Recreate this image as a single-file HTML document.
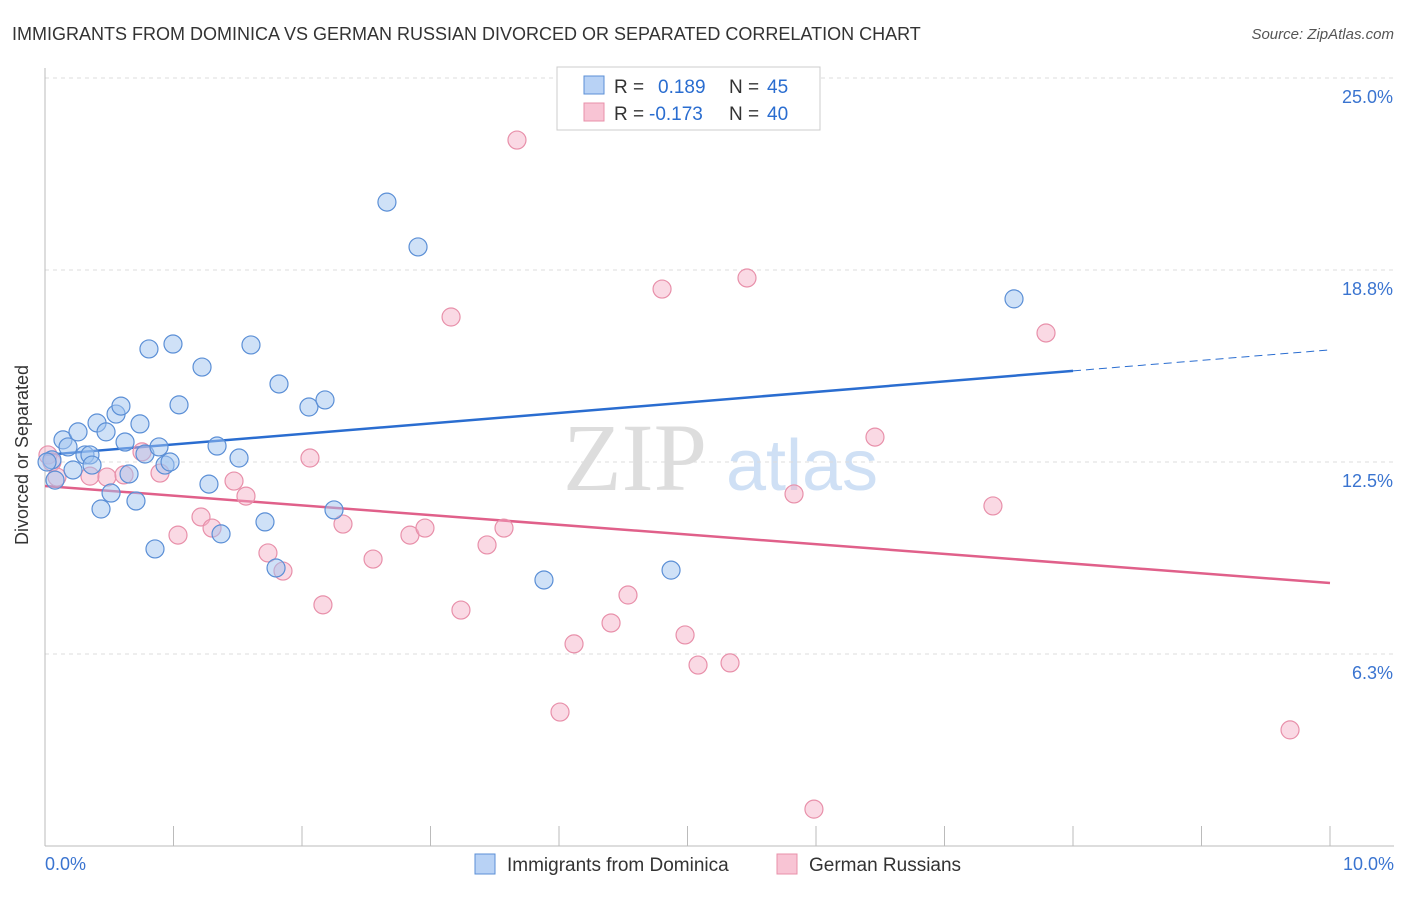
<!DOCTYPE html>
<html><head><meta charset="utf-8"><style>
body{margin:0;background:#fff;font-family:"Liberation Sans",sans-serif}
</style></head><body>
<svg width="1406" height="892" xmlns="http://www.w3.org/2000/svg" font-family="Liberation Sans, sans-serif">
<text x="12" y="40" font-size="18" fill="#333">IMMIGRANTS FROM DOMINICA VS GERMAN RUSSIAN DIVORCED OR SEPARATED CORRELATION CHART</text>
<text x="1394" y="39" font-size="15" fill="#555" font-style="italic" text-anchor="end">Source: ZipAtlas.com</text>
<g>
<text x="635" y="490" font-size="96" font-family="Liberation Serif, serif" fill="#ddd" text-anchor="middle">ZIP</text>
<text x="802" y="490" font-size="72" fill="#cfe0f5" text-anchor="middle">atlas</text>
</g>
<g id="grid"></g>
<g id="axes"></g>
<g id="trends"></g>
<g id="pts"></g>
<g>
<rect x="557" y="67" width="263" height="63" fill="#fff" stroke="#ccc"/>
<rect x="584" y="76" width="20" height="18" fill="#b8d2f5" stroke="#5b8fd6"/>
<rect x="584" y="103" width="20" height="18" fill="#f8c4d4" stroke="#e890aa"/>
<text x="614" y="93" font-size="19" fill="#333">R = <tspan fill="#2a6dd0" x="658">0.189</tspan><tspan fill="#333" x="729">N =</tspan><tspan fill="#2a6dd0" x="767">45</tspan></text>
<text x="614" y="120" font-size="19" fill="#333">R = <tspan fill="#2a6dd0" x="649">-0.173</tspan><tspan fill="#333" x="729">N =</tspan><tspan fill="#2a6dd0" x="767">40</tspan></text>
</g>
<g>
<rect x="475" y="854" width="20" height="20" fill="#b8d2f5" stroke="#5b8fd6"/>
<text x="507" y="871" font-size="19" fill="#333">Immigrants from Dominica</text>
<rect x="777" y="854" width="20" height="20" fill="#f8c4d4" stroke="#e890aa"/>
<text x="809" y="871" font-size="19" fill="#333">German Russians</text>
</g>
<text x="28" y="455" font-size="18" fill="#333" transform="rotate(-90 28 455)" text-anchor="middle">Divorced or Separated</text>
</svg>
<script>
const yTicks=[25.0,18.8,12.5,6.3];
const yTickVals=[25,18.75,12.5,6.25];
const xTickLabels=["0.0%","10.0%"];
const blueX=[0.054,0.078,0.140,0.179,0.218,0.257,0.311,0.350,0.366,0.405,0.436,0.475,0.514,0.553,0.591,0.623,0.654,0.708,0.739,0.778,0.809,0.856,0.887,0.934,0.973,0.996,1.043,1.222,1.276,1.339,1.370,1.510,1.603,1.712,1.798,1.821,2.054,2.179,2.249,2.661,2.903,3.883,4.872,7.541,0.016];
const blueY=[12.57,11.91,13.22,12.99,12.24,13.48,12.73,12.73,12.40,13.77,10.97,13.48,11.49,14.06,14.32,13.15,12.11,11.23,13.74,12.76,16.18,9.67,12.99,12.40,12.50,16.34,14.36,15.59,11.78,13.02,10.16,12.63,16.31,10.55,9.05,15.04,14.29,14.52,10.94,20.96,19.50,8.66,8.98,17.81,12.50];
const pinkX=[0.023,0.054,0.093,0.350,0.482,0.615,0.755,0.895,1.035,1.214,1.300,1.471,1.564,1.735,1.852,2.062,2.163,2.319,2.553,2.840,2.957,3.160,3.237,3.440,3.572,3.673,4.008,4.117,4.405,4.537,4.802,4.981,5.082,5.331,5.463,5.829,5.984,6.459,7.377,7.790,9.689];
const pinkY=[12.73,12.50,12.01,12.04,12.01,12.08,12.83,12.14,10.12,10.71,10.35,11.88,11.39,9.54,8.95,12.63,7.85,10.48,9.34,10.12,10.35,17.22,7.68,9.80,10.35,22.98,4.36,6.58,7.26,8.17,18.13,6.87,5.89,5.96,18.49,11.46,1.20,13.31,11.07,16.70,3.78];
const blueTrend=[12.73,16.15];
const pinkTrend=[11.72,8.56];
const blueSolidEnd=8.0;
const NS="http://www.w3.org/2000/svg";
const X=v=>45+v*128.5, Y=v=>846-v*30.72;
function mk(t,a,p){const e=document.createElementNS(NS,t);for(const k in a)e.setAttribute(k,a[k]);p.appendChild(e);return e;}
const grid=document.getElementById('grid'),axes=document.getElementById('axes');
yTickVals.forEach((v,i)=>{
 const l=mk('line',{x1:45,x2:1394,y1:Y(v),y2:Y(v),stroke:'#ddd','stroke-dasharray':'4,4'},grid);
 
 
 const t=mk('text',{x:1393,y:Y(v)+25,'font-size':18,fill:'#3a74d0','text-anchor':'end'},axes);
 t.textContent=yTicks[i].toFixed(1)+'%';
 
 
});
const ax=mk('line',{x1:45,x2:1394,y1:846,y2:846,stroke:'#bbb'},axes);


const ay=mk('line',{x1:45,x2:45,y1:68,y2:846,stroke:'#bbb'},axes);


for(let i=1;i<=10;i++){const tk=mk('line',{x1:X(i),x2:X(i),y1:826,y2:846,stroke:'#bbb'},axes);
 
 }
[[0,'start',45],[1,'end',1394]].forEach(([i,a,x])=>{const t=mk('text',{x:x,y:870,'font-size':18,fill:'#3a74d0','text-anchor':a},axes);t.textContent=xTickLabels[i];
 
 });
const tr=document.getElementById('trends');
const bt=v=>blueTrend[0]+(blueTrend[1]-blueTrend[0])*v/10;
let l1=mk('line',{x1:X(0),y1:Y(bt(0)),x2:X(blueSolidEnd),y2:Y(bt(blueSolidEnd)),stroke:'#2a6dd0','stroke-width':2.5},tr);


let l2=mk('line',{x1:X(blueSolidEnd),y1:Y(bt(blueSolidEnd)),x2:X(10),y2:Y(bt(10)),stroke:'#2a6dd0','stroke-width':1,'stroke-dasharray':'8,5'},tr);


let l3=mk('line',{x1:X(0),y1:Y(pinkTrend[0]),x2:X(10),y2:Y(pinkTrend[1]),stroke:'#e0608a','stroke-width':2.5},tr);


const pts=document.getElementById('pts');
pinkX.forEach((x,i)=>{const c=mk('circle',{cx:X(x),cy:Y(pinkY[i]),r:9,fill:'rgba(245,170,195,0.45)',stroke:'#e890aa','stroke-width':1.2},pts);
 
 });
blueX.forEach((x,i)=>{const c=mk('circle',{cx:X(x),cy:Y(blueY[i]),r:9,fill:'rgba(160,195,240,0.5)',stroke:'#5b8fd6','stroke-width':1.2},pts);
 
 });
</script>
</body></html>
